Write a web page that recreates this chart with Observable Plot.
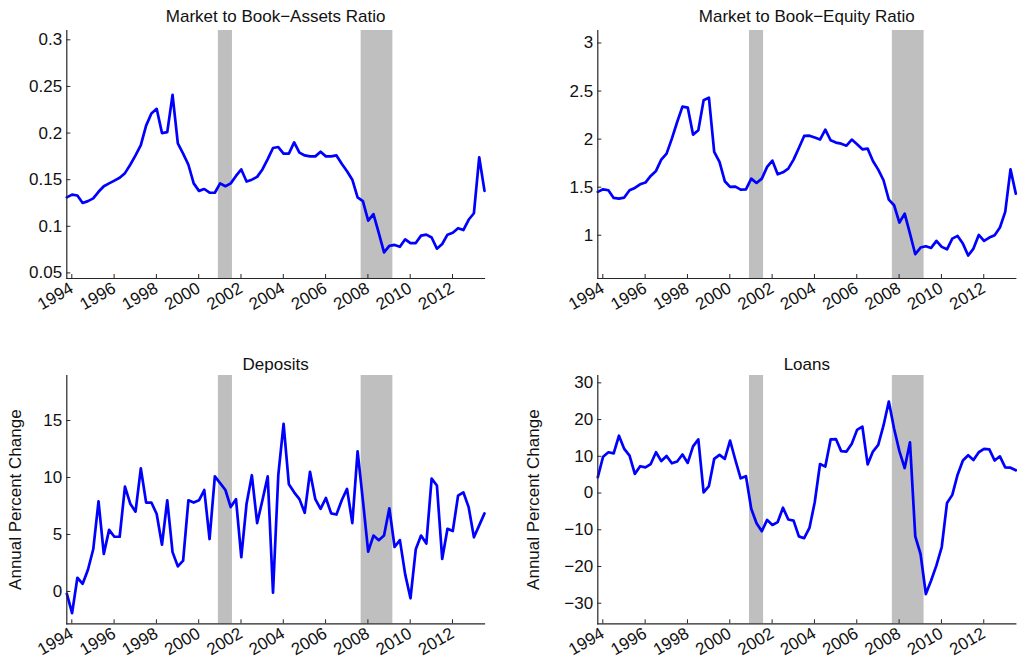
<!DOCTYPE html>
<html>
<head>
<meta charset="utf-8">
<script src="https://cdn.jsdelivr.net/npm/d3@7"></script>
<script src="https://cdn.jsdelivr.net/npm/@observablehq/plot@0.6"></script>
<style>
  html, body { margin: 0; padding: 0; background: #ffffff; }
  #wrap { position: relative; width: 1017px; height: 660px; overflow: hidden; background: #ffffff; }
  #wrap > svg { position: absolute; }
</style>
</head>
<body>
<div id="wrap"></div>
<script>
// Quarterly observations, 1994Q1 .. 2013Q4
const quarters = Array.from({length: 80}, (_, i) => 1994 + i / 4);

const assetsRatio = [
  0.131,0.134,0.133,0.125,0.127,0.130,0.137,0.143,0.146,0.149,
  0.152,0.157,0.166,0.176,0.187,0.208,0.221,0.226,0.200,0.201,
  0.241,0.189,0.178,0.166,0.146,0.138,0.140,0.136,0.136,0.146,
  0.143,0.146,0.154,0.161,0.148,0.150,0.153,0.161,0.172,0.184,
  0.185,0.178,0.178,0.190,0.179,0.176,0.175,0.175,0.180,0.175,
  0.175,0.176,0.167,0.159,0.150,0.131,0.127,0.106,0.113,0.093,
  0.072,0.079,0.080,0.078,0.086,0.082,0.082,0.090,0.091,0.088,
  0.076,0.081,0.091,0.093,0.098,0.096,0.107,0.114,0.174,0.138
];

const equityRatio = [
  1.451,1.478,1.468,1.388,1.381,1.392,1.468,1.492,1.530,1.548,
  1.617,1.669,1.787,1.849,2.005,2.178,2.338,2.328,2.047,2.092,
  2.404,2.432,1.867,1.763,1.562,1.503,1.506,1.475,1.478,1.589,
  1.544,1.589,1.711,1.776,1.634,1.655,1.693,1.787,1.908,2.033,
  2.036,2.016,1.995,2.099,1.988,1.964,1.953,1.932,1.995,1.946,
  1.894,1.901,1.773,1.683,1.572,1.371,1.312,1.132,1.225,1.017,
  0.802,0.872,0.886,0.868,0.941,0.879,0.854,0.965,0.993,0.913,
  0.789,0.861,1.003,0.941,0.976,1.000,1.080,1.243,1.686,1.433
];

const deposits = [
  -0.2,-1.9,1.2,0.67,1.9,3.7,7.9,3.3,5.4,4.8,
  4.8,9.2,7.7,7.0,10.8,7.8,7.8,6.8,4.1,8.0,
  3.45,2.2,2.7,8.0,7.8,8.0,8.9,4.6,10.1,9.5,
  8.9,7.4,8.1,3.0,7.7,10.2,6.0,8.0,10.1,-0.1,
  10.2,14.7,9.4,8.7,8.1,6.9,10.5,8.1,7.25,8.2,
  6.85,6.75,8.0,9.0,6.0,12.3,8.0,3.5,4.9,4.5,
  4.9,7.3,3.9,4.5,1.5,-0.6,3.7,4.9,4.2,9.9,
  9.3,2.85,5.5,5.3,8.4,8.7,7.4,4.75,5.8,6.85
];

const loans = [
  4.3,9.9,11.1,10.8,15.6,12.0,10.2,5.2,7.3,7.0,
  7.9,11.1,8.7,10.1,8.1,8.6,10.5,8.2,12.7,14.6,
  0.2,1.9,9.3,10.4,9.3,14.3,9.0,4.0,4.6,-4.3,
  -8.2,-10.4,-7.3,-8.7,-7.9,-4.0,-7.2,-7.5,-11.8,-12.3,
  -9.5,-2.5,7.9,7.2,14.6,14.7,11.4,11.3,13.4,17.2,
  18.1,7.8,11.3,13.1,18.4,24.9,17.5,11.4,6.8,13.8,
  -11.8,-16.6,-27.5,-23.8,-19.7,-14.7,-2.7,-0.5,5.0,8.85,
  10.3,9.0,11.1,12.0,11.9,8.85,10.0,7.0,6.9,6.2
];

// NBER recessions (start, end) in fractional years
const recessionStart = [2001.167, 2007.917];
const recessionEnd   = [2001.833, 2009.417];

const yearTicks    = [1994,1996,1998,2000,2002,2004,2006,2008,2010,2012];
const assetsTicks  = [0.05,0.1,0.15,0.2,0.25,0.3];
const equityTicks  = [1,1.5,2,2.5,3];
const depositTicks = [0,5,10,15];
const loanTicks    = [-30,-20,-10,0,10,20,30];

const titles = ["Market to Book\u2212Assets Ratio", "Market to Book\u2212Equity Ratio", "Deposits", "Loans"];
const yLabel = "Annual Percent Change";

const recessions = recessionStart.map((s, i) => ({start: s, end: recessionEnd[i]}));
const xDomain = [quarters[0], quarters[quarters.length - 1]];
const INK = "#262626";
const FONT = "'Liberation Sans', Arial, Helvetica, sans-serif";

function panel(cfg) {
  const data = quarters.map((q, i) => ({q, v: cfg.values[i]}));
  const marks = [
    Plot.rect(recessions, {x1: "start", x2: "end", fill: "#bfbfbf"}),
    Plot.line(data, {x: "q", y: "v", stroke: "#0000ff", strokeWidth: 2.7, strokeLinejoin: "round"}),
    Plot.frame({anchor: "left", stroke: INK, strokeWidth: 1.2}),
    Plot.frame({anchor: "bottom", stroke: INK, strokeWidth: 1.2}),
    Plot.axisX({ticks: yearTicks, tickFormat: d => String(d), tickSize: -4, tickPadding: 12.3,
                tickRotate: -30, dx: 5, label: null, stroke: INK, fill: "#111", fontSize: 17}),
    Plot.axisY({ticks: cfg.yTicks, tickFormat: d3.format("~g"), tickSize: -4, tickPadding: 8.6,
                label: null, stroke: INK, fill: "#111", fontSize: 17}),
    Plot.text([cfg.title], {frameAnchor: "top", lineAnchor: "bottom", dy: -cfg.titleGap,
                text: d => d, fill: "#111", fontSize: 17})
  ];
  if (cfg.ylabel) {
    marks.push(Plot.text([cfg.ylabel], {frameAnchor: "left", rotate: -90, dx: cfg.ylabelDx,
      text: d => d, textAnchor: "middle", lineAnchor: "middle", fill: "#111", fontSize: 17}));
  }
  const svg = Plot.plot({
    width: cfg.width, height: cfg.height,
    marginLeft: cfg.mL, marginRight: cfg.mR, marginTop: cfg.mT, marginBottom: cfg.mB,
    x: {domain: xDomain},
    y: {domain: cfg.yDomain},
    style: {fontFamily: FONT, fontSize: "17px", background: "transparent", color: "#111", overflow: "visible"},
    marks
  });
  svg.style.left = cfg.left + "px";
  svg.style.top = cfg.top + "px";
  document.getElementById("wrap").appendChild(svg);
}

panel({title: titles[0], values: assetsRatio, yDomain: [0.044, 0.31], yTicks: assetsTicks,
  left: 0, top: 0, width: 508, height: 330, mL: 66.3, mR: 24, mT: 30, mB: 52, titleGap: 9});
panel({title: titles[1], values: equityRatio, yDomain: [0.55, 3.13], yTicks: equityTicks,
  left: 508, top: 0, width: 509, height: 330, mL: 89.3, mR: 1.7, mT: 30, mB: 52, titleGap: 9});
panel({title: titles[2], values: deposits, yDomain: [-2.84, 18.95], yTicks: depositTicks,
  left: 0, top: 330, width: 508, height: 330, mL: 66.3, mR: 24, mT: 45, mB: 36.7, titleGap: 6,
  ylabel: yLabel, ylabelDx: -51});
panel({title: titles[3], values: loans, yDomain: [-35.6, 32], yTicks: loanTicks,
  left: 508, top: 330, width: 509, height: 330, mL: 89.3, mR: 1.7, mT: 45, mB: 36.7, titleGap: 6,
  ylabel: yLabel, ylabelDx: -64});
</script>
</body>
</html>
